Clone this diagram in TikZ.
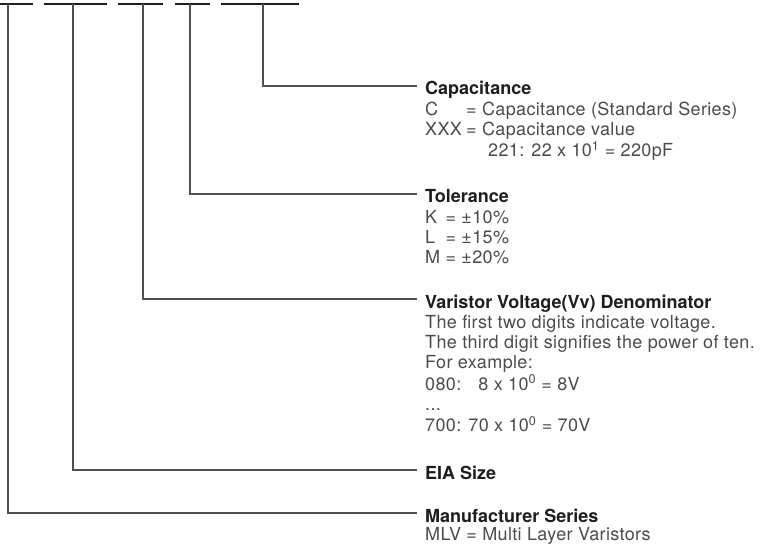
\documentclass[tikz,border=0pt]{standalone}
\usepackage{fontspec}
\setmainfont{TeX Gyre Heros}
\newfontfamily\pnlight[LetterSpace=2.0]{TeX Gyre Heros}
\definecolor{pnblack}{RGB}{30, 30, 30}
\definecolor{pngray}{RGB}{75, 75, 75}
\definecolor{pnline}{RGB}{80, 80, 80}

\begin{document}
\begin{tikzpicture}[x=1bp, y=-1bp,
  bar/.style={line width=2.6bp, pnblack},
  lead/.style={line width=1.1bp, pnline},
  head/.style={anchor=base west, inner sep=0pt, text=pnblack,
    font=\fontsize{18bp}{20.3bp}\selectfont\bfseries},
  body/.style={anchor=base west, inner sep=0pt, text=pngray,
    font=\pnlight\fontsize{18bp}{20.3bp}\selectfont}]
\useasboundingbox (0,0) rectangle (762,544);
% Part number fields
\draw[bar] (0,4) -- (33,4);
\draw[bar] (44,4) -- (107,4);
\draw[bar] (118,4) -- (163,4);
\draw[bar] (175,4) -- (210,4);
\draw[bar] (221,4) -- (299,4);
\coordinate (mfrtop) at (8,4);
\coordinate (eiatop) at (73,4);
\coordinate (vartop) at (143,4);
\coordinate (toltop) at (190,4);
\coordinate (captop) at (263,4);
% Headings
\node[head] (cap) at (425,95) {Capacitance};
\node[head] (tol) at (425,203) {Tolerance};
\node[head] (var) at (425,308) {Varistor Voltage(Vv) Denominator};
\node[head] (eia) at (425,479) {EIA Size};
\node[head] (mfr) at (425,522) {Manufacturer Series};
% Descriptions
\node[body] (capbody) at ([yshift=-20.3bp]cap.base west) {\begin{tabular}[t]{@{}l@{}}
  \makebox[41bp][l]{C}= Capacitance (Standard Series)\\
  \makebox[41bp][l]{XXX}= Capacitance value\\
  \hspace*{63bp}221: 22 x 10\textsuperscript{1} = 220pF
\end{tabular}};
\node[body] (tolbody) at ([yshift=-20.3bp]tol.base west) {\begin{tabular}[t]{@{}l@{}}
  \rlap{K}\hphantom{M} = ±10\%\\
  \rlap{L}\hphantom{M} = ±15\%\\
  M = ±20\%
\end{tabular}};
\node[body] (varbody) at ([yshift=-20.3bp]var.base west) {\begin{tabular}[t]{@{}l@{}}
  The first two digits indicate voltage.\\
  The third digit signifies the power of ten.\\
  For example:\\
  080: \hphantom{7}8 x 10\textsuperscript{0} = 8V\\
  ...\\
  700: 70 x 10\textsuperscript{0} = 70V
\end{tabular}};
\node[body] (mfrbody) at ([yshift=-18.5bp]mfr.base west) {MLV = Multi Layer Varistors};
% Leader lines
\draw[lead] (captop) |- ([xshift=-8bp,yshift=9bp]cap.base west);
\draw[lead] (toltop) |- ([xshift=-8bp,yshift=9bp]tol.base west);
\draw[lead] (vartop) |- ([xshift=-8bp,yshift=9bp]var.base west);
\draw[lead] (eiatop) |- ([xshift=-8bp,yshift=9bp]eia.base west);
\draw[lead] (mfrtop) |- ([xshift=-8bp,yshift=9bp]mfr.base west);
\end{tikzpicture}
\end{document}
